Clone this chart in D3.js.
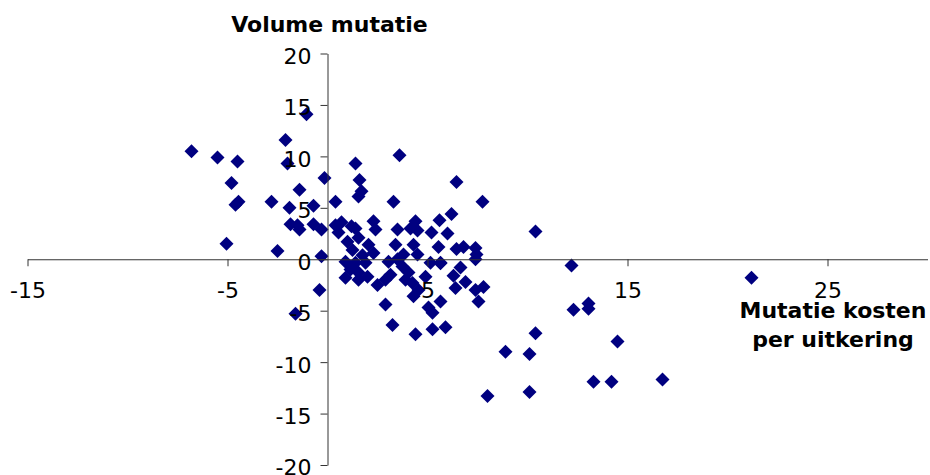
<!DOCTYPE html>
<html>
<head>
<meta charset="utf-8">
<script src="https://cdn.jsdelivr.net/npm/d3@7"></script>
<style>
  html, body { margin: 0; padding: 0; background: #fff; }
  svg { display: block; }
  text { font-family: "DejaVu Sans", Verdana, sans-serif; fill: #000; }
</style>
</head>
<body>
<svg id="chart" width="930" height="475"></svg>
<script>
// Mutatie kosten per uitkering (x) against volume mutatie (y), one entry per point
const kostenMutatie = [
  -6.8, -5.5, -4.5, -4.8, -4.6, -4.45, -5.05, -2.8, -2.5, -2.1, -2.0, -1.05, -1.4, -0.15, -1.9, -0.7,
  -1.85, -1.5, -1.4, -0.7, -0.3, -0.3, -0.4, -1.6,
  0.4, 1.4, 3.6, 1.6, 1.7, 1.55, 3.3, 0.4, 0.7, 1.2, 1.4, 2.3, 2.4, 3.5, 4.4, 4.15, 4.5, 5.6, 5.2,
  6.45, 7.75, 6.2, 6.0, 10.4, 5.55, 6.45, 6.8, 7.4, 7.45,
  0.55, 1.0, 1.55, 1.25, 2.05, 2.3, 1.75, 0.9, 1.4, 1.9, 1.15, 1.55, 0.9, 1.55, 2.0, 2.5, 2.9, 3.15,
  3.05, 3.4, 3.8, 3.5, 4.3, 4.5, 3.75, 4.05, 4.25, 3.9, 4.55, 4.9, 5.15, 5.65, 4.3, 5.05, 5.25, 2.9,
  3.25, 4.4, 5.25,
  7.4, 5.65, 6.65, 6.3, 6.9, 6.4, 7.4, 7.8, 7.55, 5.65, 5.9, 10.4, 8.9, 12.2, 21.2,
  12.3, 13.05, 13.05, 14.5, 10.1, 13.3, 14.2, 16.75, 10.1, 8.0
];
const volumeMutatie = [
  10.5, 9.9, 9.5, 7.4, 5.3, 5.6, 1.5, 5.6, 0.8, 11.6, 9.3, 14.1, 6.75, 7.9, 5.0, 5.2,
  3.4, 3.3, 2.9, 3.4, 2.9, 0.3, -3.0, -5.3,
  5.6, 9.3, 10.1, 7.7, 6.6, 6.1, 5.6, 3.3, 3.6, 3.2, 3.0, 3.7, 2.9, 2.9, 3.7, 3.0, 2.8, 3.8, 2.6,
  7.5, 5.6, 4.4, 2.5, 2.7, 1.2, 1.0, 1.2, 1.1, 0.45,
  2.6, 1.7, 2.1, 0.9, 1.4, 0.6, 0.4, -0.25, -0.35, -0.35, -1.0, -1.3, -1.8, -2.0, -1.7, -2.5, -2.0, -1.5,
  -0.25, 1.4, 0.45, 0.0, 1.4, 0.45, -0.7, -1.3, -2.3, -2.0, -3.0, -1.7, -0.35, -0.35, -3.6, -4.7, -5.2, -4.4,
  -6.4, -7.3, -6.8,
  0.0, -0.4, -0.8, -1.6, -2.2, -2.8, -3.0, -2.7, -4.1, -4.1, -6.6, -7.2, -9.0, -0.6, -1.8,
  -4.9, -4.3, -4.8, -8.0, -9.2, -11.9, -11.9, -11.7, -12.9, -13.3
];

const xTicks = [-15, -5, 5, 15, 25];
const yTicks = [-20, -15, -10, -5, 0, 5, 10, 15, 20];
const yTitle = "Volume mutatie";
const xTitle = ["Mutatie kosten", "per uitkering"];

const points = kostenMutatie.map((v, i) => ({ x: v, y: volumeMutatie[i] }));

const svg = d3.select("#chart");

const x = d3.scaleLinear().domain([-15, 30]).range([27.5, 927.5]);
const y = d3.scaleLinear().domain([-20, 20]).range([465, 53.5]);

// plain hyphen for negative tick values
const tickText = d => String(d);

// markers: navy squares turned 45 degrees
const diamond = d3.symbol().type(d3.symbolSquare).size(98);
svg.append("g")
  .selectAll("path")
  .data(points)
  .join("path")
  .attr("d", diamond)
  .attr("transform", d => `translate(${x(d.x)},${y(d.y)}) rotate(45)`)
  .attr("fill", "#000080");

// horizontal axis through y = 0
const xAxis = svg.append("g")
  .attr("transform", `translate(0,${y(0)})`)
  .call(d3.axisBottom(x).tickValues(xTicks).tickSize(7).tickSizeOuter(0).tickPadding(16.4)
    .tickFormat(tickText));

// vertical axis through x = 0
const yAxis = svg.append("g")
  .attr("transform", `translate(${x(0)},0)`)
  .call(d3.axisLeft(y).tickValues(yTicks).tickSize(7).tickSizeOuter(0).tickPadding(9)
    .tickFormat(tickText));
yAxis.selectAll(".tick text").attr("dy", "0.45em");

[xAxis, yAxis].forEach(g => {
  g.attr("font-family", null).attr("font-size", null);
  g.select(".domain").attr("stroke", "#333").attr("stroke-width", 1);
  g.selectAll(".tick line").attr("stroke", "#333").attr("stroke-width", 1);
  g.selectAll(".tick text").style("font-size", "22px").attr("fill", "#000");
});

// axis titles
svg.append("text")
  .attr("x", x(0) + 2)
  .attr("y", 32)
  .attr("text-anchor", "middle")
  .style("font-size", "22px")
  .style("font-weight", "bold")
  .text(yTitle);

svg.append("text")
  .attr("text-anchor", "middle")
  .style("font-size", "22px")
  .style("font-weight", "bold")
  .selectAll("tspan")
  .data(xTitle)
  .join("tspan")
  .attr("x", 833)
  .attr("y", (d, i) => 318 + i * 29)
  .text(d => d);
</script>
</body>
</html>
